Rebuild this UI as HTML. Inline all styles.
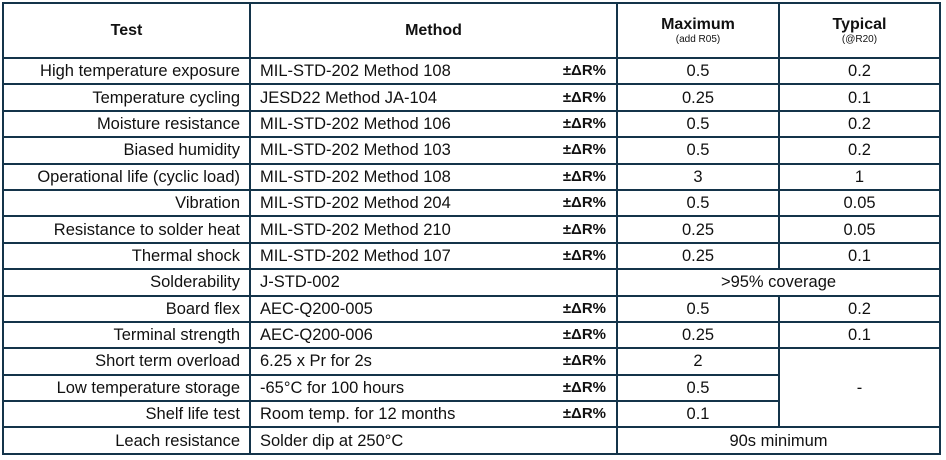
<!DOCTYPE html>
<html><head><meta charset="utf-8"><style>
html,body{margin:0;padding:0;background:#fff;width:946px;height:460px;overflow:hidden}
table{position:absolute;left:2px;top:2px;border-collapse:collapse;table-layout:fixed;width:937px;font-family:"Liberation Sans",Arial,sans-serif;font-size:16.5px;color:#111}
td{border:2px solid #14344a;padding:0;height:24.4px;line-height:24px;white-space:nowrap;overflow:hidden}
td.t{text-align:right;padding-right:9px}
td.m{padding-left:9px;padding-right:10px}
td.m b{float:right;font-size:15px}
td.c{text-align:center}
th{border:2px solid #14344a;height:53px;font-weight:bold;font-size:16px;padding:0;vertical-align:middle}
th small{display:block;font-weight:normal;font-size:10px;line-height:12px}
</style></head><body>
<table>
<colgroup><col style="width:247px"><col style="width:367px"><col style="width:162px"><col style="width:161px"></colgroup>
<tr><th>Test</th><th>Method</th><th>Maximum<small>(add R05)</small></th><th>Typical<small>(@R20)</small></th></tr>
<tr><td class="t">High temperature exposure</td><td class="m">MIL-STD-202 Method 108<b>±ΔR%</b></td><td class="c">0.5</td><td class="c">0.2</td></tr>
<tr><td class="t">Temperature cycling</td><td class="m">JESD22 Method JA-104<b>±ΔR%</b></td><td class="c">0.25</td><td class="c">0.1</td></tr>
<tr><td class="t">Moisture resistance</td><td class="m">MIL-STD-202 Method 106<b>±ΔR%</b></td><td class="c">0.5</td><td class="c">0.2</td></tr>
<tr><td class="t">Biased humidity</td><td class="m">MIL-STD-202 Method 103<b>±ΔR%</b></td><td class="c">0.5</td><td class="c">0.2</td></tr>
<tr><td class="t">Operational life (cyclic load)</td><td class="m">MIL-STD-202 Method 108<b>±ΔR%</b></td><td class="c">3</td><td class="c">1</td></tr>
<tr><td class="t">Vibration</td><td class="m">MIL-STD-202 Method 204<b>±ΔR%</b></td><td class="c">0.5</td><td class="c">0.05</td></tr>
<tr><td class="t">Resistance to solder heat</td><td class="m">MIL-STD-202 Method 210<b>±ΔR%</b></td><td class="c">0.25</td><td class="c">0.05</td></tr>
<tr><td class="t">Thermal shock</td><td class="m">MIL-STD-202 Method 107<b>±ΔR%</b></td><td class="c">0.25</td><td class="c">0.1</td></tr>
<tr><td class="t">Solderability</td><td class="m">J-STD-002</td><td class="c" colspan="2">&gt;95% coverage</td></tr>
<tr><td class="t">Board flex</td><td class="m">AEC-Q200-005<b>±ΔR%</b></td><td class="c">0.5</td><td class="c">0.2</td></tr>
<tr><td class="t">Terminal strength</td><td class="m">AEC-Q200-006<b>±ΔR%</b></td><td class="c">0.25</td><td class="c">0.1</td></tr>
<tr><td class="t">Short term overload</td><td class="m">6.25 x Pr for 2s<b>±ΔR%</b></td><td class="c">2</td><td class="c" rowspan="3">-</td></tr>
<tr><td class="t">Low temperature storage</td><td class="m">-65°C for 100 hours<b>±ΔR%</b></td><td class="c">0.5</td></tr>
<tr><td class="t">Shelf life test</td><td class="m">Room temp. for 12 months<b>±ΔR%</b></td><td class="c">0.1</td></tr>
<tr><td class="t">Leach resistance</td><td class="m">Solder dip at 250°C</td><td class="c" colspan="2">90s minimum</td></tr>
</table>
</body></html>
